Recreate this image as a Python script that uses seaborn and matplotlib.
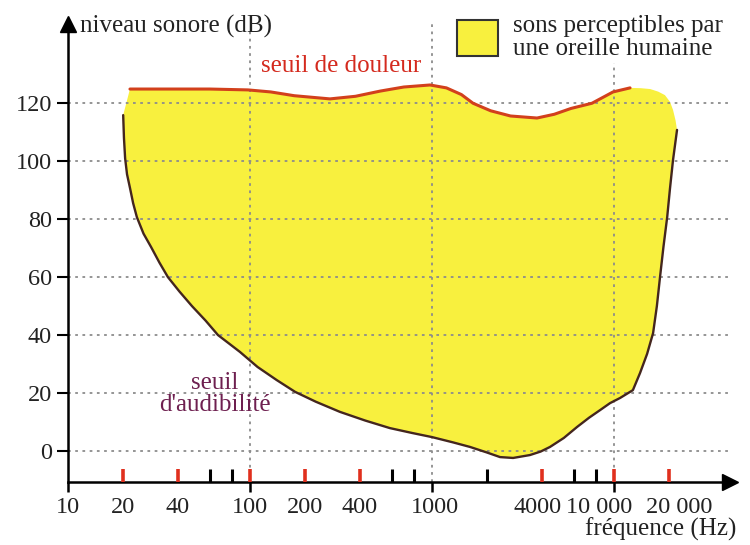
import numpy as np
import pandas as pd
import matplotlib
matplotlib.use("Agg")
import matplotlib.pyplot as plt
import matplotlib.transforms as mtransforms
import seaborn as sns
from matplotlib.patches import Patch
from matplotlib.ticker import NullLocator

# ---- data ----
pain_freq = [21.9, 60, 97.5, 130, 175, 275, 380, 520, 700, 975, 1200, 1450, 1680, 2100,
             2700, 3776, 4700, 5800, 7570, 9880, 12250]
pain_db = [124.9, 124.9, 124.6, 123.9, 122.6, 121.5, 122.4, 124.2, 125.6, 126.3, 125.3,
           123.0, 120.0, 117.4, 115.6, 114.9, 116.2, 118.2, 120.0, 123.9, 125.3]

corner_freq = [14000, 15800, 17500, 19050, 20300, 21100, 21800]
corner_db = [125.2, 124.9, 124.0, 122.8, 120.5, 117.7, 114.0]

aud_freq = [20.1, 20.3, 20.6, 21.1, 21.9, 22.8, 23.9, 26, 28.6, 31.8, 35.4, 41, 48, 57,
            66.7, 77, 88, 110, 140, 177, 230, 312, 430, 587, 780, 1000, 1300, 1618,
            2000, 2365, 2790, 3450, 3950, 4450, 5300, 6270, 7300, 8380, 9500, 10800,
            12700, 13900, 15200, 16400, 17200, 17900, 18700, 19600, 20300, 21100, 22200]
aud_db = [115.9, 108.0, 101.0, 95.5, 90.8, 85.5, 80.7, 75.0, 70.4, 65.0, 60.0, 55.0, 50.0, 45.0,
          40.0, 37.0, 34.2, 29.0, 24.5, 20.4, 17.0, 13.5, 10.5, 7.9, 6.2, 4.8, 3.0, 1.4,
          -0.5, -2.1, -2.4, -1.4, -0.2, 1.4, 4.5, 8.3, 11.5, 14.1, 16.5, 18.3,
          21.0, 26.9, 33.5, 40.7, 50.0, 60.0, 70.5, 80.7, 90.5, 100.4, 110.8]

xtick_vals = [10, 20, 40, 100, 200, 400, 1000, 4000, 10000, 20000]
xtick_labels = ["10", "20", "40", "100", "200", "400", "1000", "4000", "10 000", "20 000"]
red_ticks = [20, 40, 100, 200, 400, 4000, 10000, 20000]
black_ticks = [60, 80, 600, 800, 2000, 6000, 8000]
down_ticks = [10, 100, 1000, 10000]
y_ticks = [0, 20, 40, 60, 80, 100, 120]

# ---- style ----
sns.set_style("white")
plt.rcParams['font.family'] = ['Liberation Serif', 'DejaVu Serif']

YELLOW = '#f8f03e'
RED = '#d2401c'
DARK = '#44261e'
TXT = '#222222'

W, H = 750, 545
fig = plt.figure(figsize=(7.5, 5.45), dpi=100)
left_px, right_px, top_px, bottom_px = 68, 730, 24, 482
ax = fig.add_axes([left_px / W, (H - bottom_px) / H,
                   (right_px - left_px) / W, (bottom_px - top_px) / H])

px_per_dec = 182.0
px_per_db = 2.898
ymin = -(bottom_px - 451) / px_per_db
ymax = (451 - top_px) / px_per_db
xmax = 10 ** (1 + (right_px - left_px) / px_per_dec)
ax.set_xscale('log')
ax.set_xlim(10, xmax)
ax.set_ylim(ymin, ymax)

# grid
grid_kw = dict(colors='#8c8c8c', linestyles=(0, (1.5, 2.5)), linewidth=1.3, zorder=2)
ax.hlines(y_ticks, 10, xmax, **grid_kw)
ax.vlines(100, ymin, (451 - 30) / px_per_db, **grid_kw)
ax.vlines(1000, ymin, ymax, **grid_kw)
ax.vlines(10000, ymin, (451 - 63) / px_per_db, **grid_kw)

# yellow region
poly_x = pain_freq + corner_freq + aud_freq[::-1]
poly_y = pain_db + corner_db + aud_db[::-1]
ax.fill(poly_x, poly_y, color=YELLOW, lw=0, zorder=1)

# curves
sns.lineplot(x=pain_freq, y=pain_db, sort=False, estimator=None, color=RED, lw=2.2, ax=ax, zorder=4)
sns.lineplot(x=aud_freq, y=aud_db, sort=False, estimator=None, color=DARK, lw=1.7, ax=ax, zorder=4)
ax.set_xlabel('')
ax.set_ylabel('')

# spines / arrows
for s in ['top', 'right']:
    ax.spines[s].set_visible(False)
for s in ['left', 'bottom']:
    ax.spines[s].set_color('black')
    ax.spines[s].set_linewidth(1.8)
ax.plot([1], [0], marker='>', color='black', ms=11, transform=ax.transAxes, clip_on=False, zorder=6)
ax.plot([0], [1], marker='^', color='black', ms=11, transform=ax.transAxes, clip_on=False, zorder=6)

# ticks
ax.set_xticks(xtick_vals)
ax.set_xticklabels(xtick_labels)
ax.xaxis.set_minor_locator(NullLocator())
ax.tick_params(axis='x', bottom=True, length=0, pad=11, labelsize=17.5, labelcolor=TXT)
ax.set_yticks(y_ticks)
ax.tick_params(axis='y', left=True, length=8, width=1.5, color='black', direction='out',
               pad=3.5, labelsize=17.5, labelcolor=TXT)

# small horizontal shifts of crowded labels (pixels), as in the reference
label_shift = {"1000": 3, "4000": -4, "10 000": -15, "20 000": 10}
for lab in ax.get_xticklabels():
    dx = label_shift.get(lab.get_text(), 0)
    if dx:
        lab.set_transform(lab.get_transform() +
                          mtransforms.ScaledTranslation(dx / 100, 0, fig.dpi_scale_trans))

tick_h = 13 / px_per_db
ax.vlines(red_ticks, ymin, ymin + tick_h, colors='#e0301e', lw=2.6, zorder=5)
ax.vlines(black_ticks, ymin, ymin + tick_h, colors='black', lw=2.2, zorder=5)
ax.vlines(down_ticks, ymin - 10 / px_per_db, ymin, colors='black', lw=1.8, zorder=5, clip_on=False)

# texts
def ftext(x, y, s, **kw):
    fig.text(x / W, 1 - y / H, s, **kw)

ftext(80, 26, "niveau sonore (dB)", fontsize=18, color=TXT, ha='left', va='center')
ftext(736, 529, "fréquence (Hz)", fontsize=18, color=TXT, ha='right', va='center')
ftext(341, 66, "seuil de douleur", fontsize=18, color='#d42a1e', ha='center', va='center')
ftext(215, 394, "seuil\nd'audibilité", fontsize=18, color='#6e2050', ha='center', va='center',
      linespacing=1.0)

# legend
fig.legend(handles=[Patch(facecolor=YELLOW, edgecolor='#333333', lw=1.5)],
           labels=['sons perceptibles par\nune oreille humaine'],
           loc='upper left', bbox_to_anchor=(453 / W, 1 - 11 / H),
           frameon=True, facecolor='white', edgecolor='none', framealpha=1,
           fontsize=18, handlelength=1.65, handleheight=1.85, handletextpad=0.6,
           borderpad=0.15, borderaxespad=0, labelspacing=0)
for t in fig.legends[0].get_texts():
    t.set_color(TXT)
    t.set_linespacing(1.05)

fig.savefig('out.png', dpi=100)
